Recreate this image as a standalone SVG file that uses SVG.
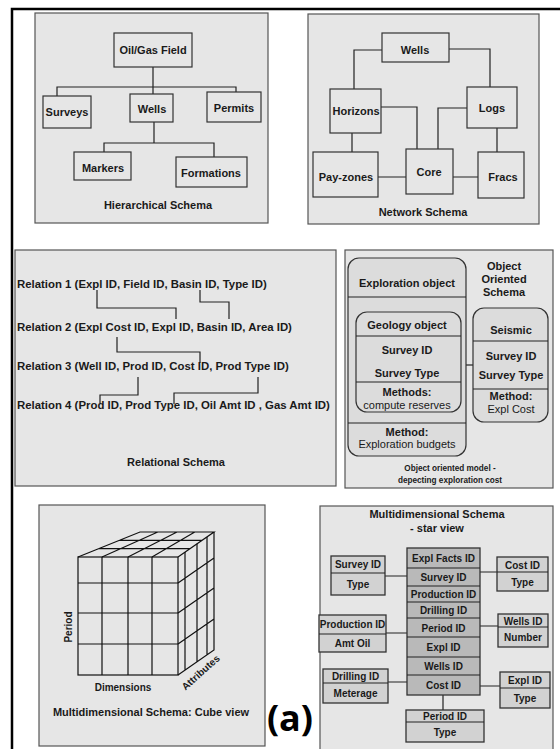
<svg xmlns="http://www.w3.org/2000/svg" width="560" height="749" viewBox="0 0 560 749">
<style>
.panel{fill:#e6e6e6;stroke:#555;stroke-width:1.2}
.box{fill:none;stroke:#333;stroke-width:1.2}
.rbox{fill:#dcdcdc;stroke:#333;stroke-width:1.2}
.sat{fill:#d2d2d2;stroke:#333;stroke-width:1.3}
.fact{fill:#b9b9b9;stroke:#333;stroke-width:1.3}
.ln{fill:none;stroke:#222;stroke-width:1.2}
.cube{fill:none;stroke:#111;stroke-width:1.2}
text{font-family:"Liberation Sans",Arial,Helvetica,sans-serif;font-weight:bold;font-size:11px;fill:#1a1a1a;text-anchor:middle}
.st{text-anchor:start;font-size:11.4px}
.rg{font-weight:normal}
.sm{font-size:10px}
.cap{font-size:8.2px}
</style>
<rect x="0" y="0" width="560" height="749" fill="#ffffff"/>
<path d="M12 749 V9 H560" fill="none" stroke="#000" stroke-width="2.5"/>

<g id="hierarchical">
<rect class="panel" x="35" y="13" width="233" height="210"/>
<g id="h-connectors"><path class="ln" d="M153 67 V87 M57 96 V87 H236 V92 M153 87 V94 M154 122 V143 M104 152 V143 H214 V157"/></g>
<g id="h-oilgas"><rect class="box" x="114" y="33" width="78" height="34"/><text x="153" y="54">Oil/Gas Field</text></g>
<g id="h-surveys"><rect class="box" x="43" y="96" width="48" height="32"/><text x="67" y="116">Surveys</text></g>
<g id="h-wells"><rect class="box" x="130" y="94" width="43" height="28"/><text x="152" y="113">Wells</text></g>
<g id="h-permits"><rect class="box" x="207" y="92" width="54" height="30"/><text x="234" y="112">Permits</text></g>
<g id="h-markers"><rect class="box" x="74" y="152" width="57" height="28"/><text x="103" y="172">Markers</text></g>
<g id="h-formations"><rect class="box" x="176" y="157" width="71" height="30"/><text x="211" y="177">Formations</text></g>
<text x="158" y="209">Hierarchical Schema</text>
</g>

<g id="network">
<rect class="panel" x="308" y="14" width="231" height="210"/>
<g id="n-connectors"><path class="ln" d="M382 50 H354 V89 M449 49 H490 V87 M381 107 H417 V149 M467 108 H438 V149 M352 133 V152 M497 128 V152 M378 177 H406 M453 177 H478"/></g>
<g id="n-wells"><rect class="box" x="382" y="33" width="67" height="29"/><text x="415" y="54">Wells</text></g>
<g id="n-horizons"><rect class="box" x="330" y="89" width="51" height="44"/><text x="356" y="115">Horizons</text></g>
<g id="n-logs"><rect class="box" x="467" y="87" width="50" height="41"/><text x="492" y="112">Logs</text></g>
<g id="n-payzones"><rect class="box" x="313" y="152" width="65" height="45"/><text x="346" y="181">Pay-zones</text></g>
<g id="n-core"><rect class="box" x="406" y="149" width="47" height="45"/><text x="429" y="176">Core</text></g>
<g id="n-fracs"><rect class="box" x="478" y="152" width="46" height="46"/><text x="503" y="181">Fracs</text></g>
<text x="423" y="216">Network Schema</text>
</g>

<g id="relational">
<rect class="panel" x="15" y="250" width="321" height="236"/>
<g id="r-connectors"><path class="ln" d="M97 290 V308 H176 V319 M200 290 V302 H229 V319 M117 337 V352 H200 V363 M138 377 V395 H100 V403 M258 377 V393 H174 V404"/></g>
<g id="rel1"><text class="st" x="17" y="288">Relation 1 (Expl ID, Field ID, Basin ID, Type ID)</text></g>
<g id="rel2"><text class="st" x="17" y="331">Relation 2 (Expl Cost ID, Expl ID, Basin ID, Area ID)</text></g>
<g id="rel3"><text class="st" x="17" y="370">Relation 3 (Well ID, Prod ID, Cost ID, Prod Type ID)</text></g>
<g id="rel4"><text class="st" x="17" y="409">Relation 4 (Prod ID, Prod Type ID, Oil Amt ID , Gas Amt ID)</text></g>
<text x="176" y="466">Relational Schema</text>
</g>

<g id="object-oriented">
<rect class="panel" x="345" y="250" width="208" height="238"/>
<g id="o-connectors"><path class="ln" d="M461 365 H473"/></g>
<g id="o-exploration">
<rect class="rbox" x="348" y="258" width="118" height="198" rx="11"/>
<path class="ln" d="M348 297 H466 M348 423 H466"/>
<text x="407" y="287">Exploration object</text>
<text x="407" y="436">Method:</text>
<text class="rg" x="407" y="448">Exploration budgets</text>
</g>
<g id="o-geology">
<rect class="rbox" x="356" y="312" width="105" height="100" rx="11"/>
<path class="ln" d="M356 336 H461 M356 382 H461"/>
<text x="407" y="329">Geology object</text>
<text x="407" y="354">Survey ID</text>
<text x="407" y="377">Survey Type</text>
<text x="407" y="396">Methods:</text>
<text class="rg" x="407" y="409">compute reserves</text>
</g>
<g id="o-seismic">
<rect class="rbox" x="473" y="308" width="75" height="114" rx="11"/>
<path class="ln" d="M473 341 H548 M473 389 H548"/>
<text x="511" y="334">Seismic</text>
<text x="511" y="360">Survey ID</text>
<text x="511" y="379">Survey Type</text>
<text x="511" y="400">Method:</text>
<text class="rg" x="511" y="413">Expl Cost</text>
</g>
<text x="504" y="270">Object</text>
<text x="504" y="283">Oriented</text>
<text x="504" y="296">Schema</text>
<text class="cap" x="450" y="471">Object oriented model -</text>
<text class="cap" x="450" y="483">depecting exploration cost</text>
</g>

<g id="cube-view">
<rect class="panel" x="39" y="505" width="226" height="241"/>
<g id="cube">
<rect class="cube" x="78" y="557" width="100" height="118"/>
<path class="cube" d="M102 557 V675 M128 557 V675 M152 557 V675 M78 583 H178 M78 613 H178 M78 644 H178"/>
<path class="cube" d="M78 557 L140 532 H214 L178 557 M98.7 548.7 H190 M119.3 540.3 H202 M102 557 L157.8 532 M128 557 L177 532 M152 557 L194.8 532"/>
<path class="cube" d="M214 532 V650 L178 675 M178 583 L214 558 M178 613 L214 588 M178 644 L214 619 M185 552.1 V670.1 M197 543.8 V661.8 M207 536.9 V654.9"/>
</g>
<text class="sm" transform="translate(72 627) rotate(-90)">Period</text>
<text class="sm" x="123" y="691">Dimensions</text>
<text class="sm" transform="translate(203 675) rotate(-42)">Attributes</text>
<text x="151" y="716">Multidimensional Schema: Cube view</text>
</g>

<text x="290" y="731" style="font-family:'Open Sans','Liberation Sans',sans-serif;font-size:36px;font-weight:bold;fill:#000">(a)</text>

<g id="star-view">
<rect class="panel" x="320" y="506" width="233" height="244"/>
<text x="437" y="518">Multidimensional Schema</text>
<text x="437" y="532">- star view</text>
<g id="s-connectors"><path class="ln" d="M385 576 H407 M480 572 H497 M386 633 H407 M480 626 H498 M388 682 H407 M480 686 H500 M443 695 V710"/></g>
<g id="s-fact">
<rect class="fact" x="407" y="548" width="73" height="147"/>
<path class="ln" d="M407 568 H480 M407 586 H480 M407 602 H480 M407 618 H480 M407 637 H480 M407 657 H480 M407 675 H480"/>
<text class="sm" x="443.5" y="562">Expl Facts ID</text>
<text class="sm" x="443.5" y="581">Survey ID</text>
<text class="sm" x="443.5" y="598">Production ID</text>
<text class="sm" x="443.5" y="614">Drilling ID</text>
<text class="sm" x="443.5" y="632">Period ID</text>
<text class="sm" x="443.5" y="651">Expl ID</text>
<text class="sm" x="443.5" y="670">Wells ID</text>
<text class="sm" x="443.5" y="689">Cost ID</text>
</g>
<g id="s-survey"><rect class="sat" x="331" y="556" width="54" height="39"/><path class="ln" d="M331 573 H385"/><text class="sm" x="358" y="568">Survey ID</text><text class="sm" x="358" y="588">Type</text></g>
<g id="s-cost"><rect class="sat" x="497" y="557" width="51" height="34"/><path class="ln" d="M497 572 H548"/><text class="sm" x="522.5" y="569">Cost ID</text><text class="sm" x="522.5" y="586">Type</text></g>
<g id="s-production"><rect class="sat" x="319" y="615" width="67" height="37"/><path class="ln" d="M319 634 H386"/><text class="sm" x="352.5" y="628">Production ID</text><text class="sm" x="352.5" y="647">Amt Oil</text></g>
<g id="s-wells"><rect class="sat" x="498" y="614" width="50" height="33"/><path class="ln" d="M498 627 H548"/><text class="sm" x="523" y="624.5">Wells ID</text><text class="sm" x="523" y="641">Number</text></g>
<g id="s-drilling"><rect class="sat" x="323" y="669" width="65" height="34"/><path class="ln" d="M323 683 H388"/><text class="sm" x="355.5" y="680">Drilling ID</text><text class="sm" x="355.5" y="697">Meterage</text></g>
<g id="s-expl"><rect class="sat" x="500" y="672" width="50" height="36"/><path class="ln" d="M500 688 H550"/><text class="sm" x="525" y="684">Expl ID</text><text class="sm" x="525" y="702">Type</text></g>
<g id="s-period"><rect class="sat" x="406" y="710" width="78" height="32"/><path class="ln" d="M406 722 H484"/><text class="sm" x="445" y="720">Period ID</text><text class="sm" x="445" y="736">Type</text></g>
</g>
</svg>
